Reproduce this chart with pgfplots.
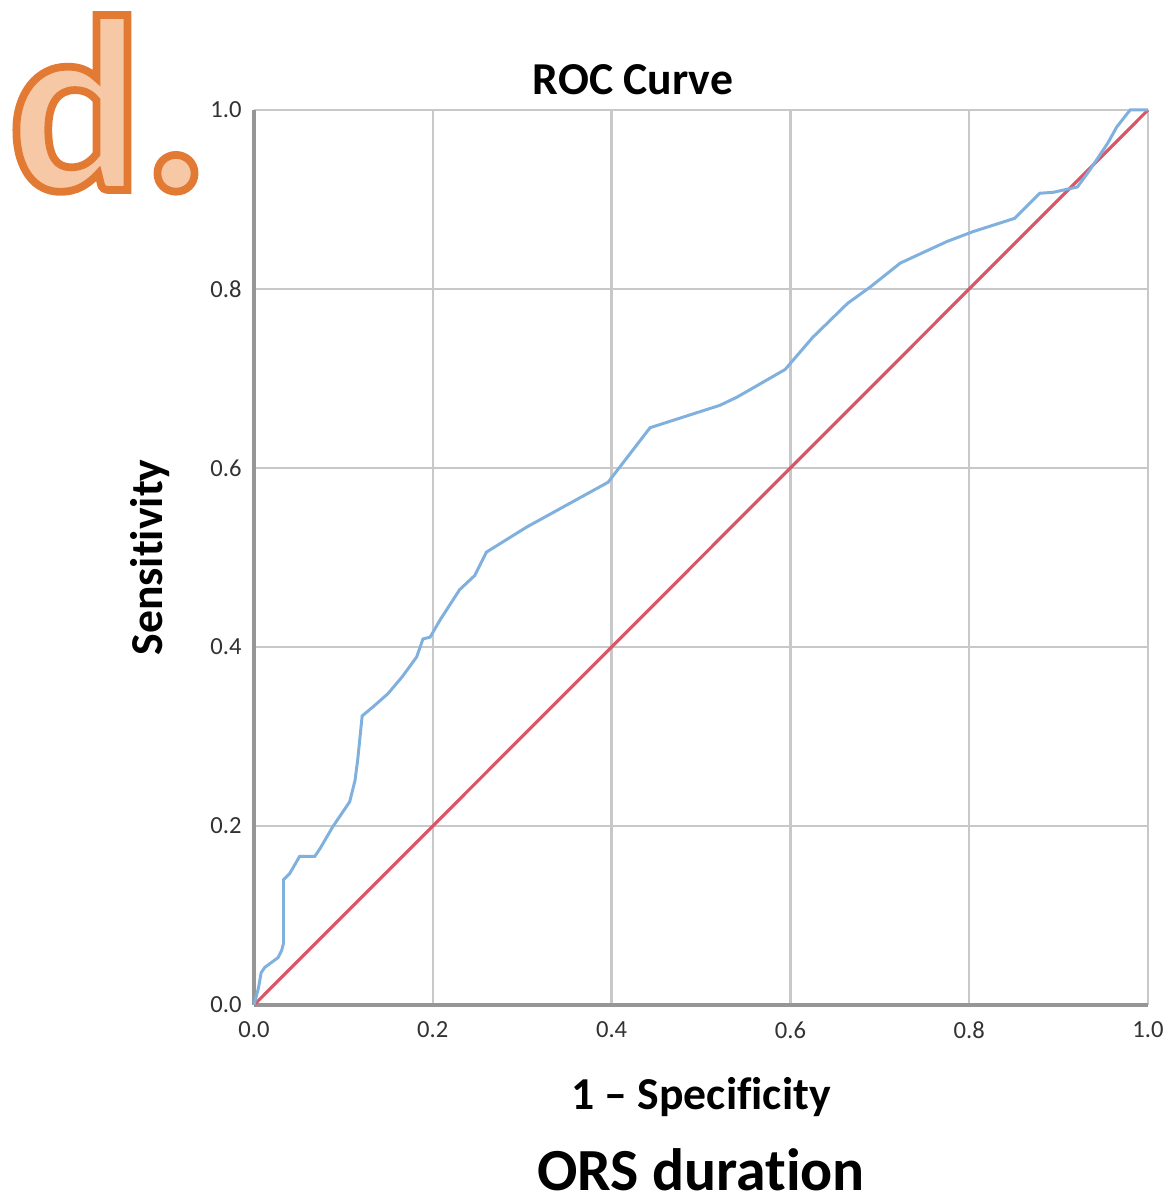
\documentclass[border=0pt]{standalone}
\usepackage{pgfplots}
\pgfplotsset{compat=1.18}
\usepackage{fontspec}
\setmainfont{Carlito}[Ligatures={NoCommon}]
\usetikzlibrary{calc}
\definecolor{rocblue}{RGB}{128,176,222}
\definecolor{refred}{RGB}{216,86,104}
\definecolor{gridg}{RGB}{200,200,200}
\definecolor{axg}{RGB}{150,150,150}
\definecolor{dfill}{RGB}{246,200,166}
\definecolor{tickg}{RGB}{50,50,50}

\begin{document}
\begin{tikzpicture}
\begin{axis}[
  scale only axis, width=89.4mm, height=89.5mm,
  xmin=0, xmax=1, ymin=0, ymax=1,
  xtick={0,0.2,0.4,0.6,0.8,1}, ytick={0,0.2,0.4,0.6,0.8,1},
  grid=major, major grid style={gridg, line width=0.7pt},
  axis x line*=bottom, axis y line*=left,
  axis line style={-, axg, line width=0.9pt},
  major tick length=0pt,
  /pgf/number format/assume math mode=true,
  /pgf/number format/.cd, fixed, fixed zerofill, precision=1, /pgfplots/.cd,
  tick label style={font=\fontsize{7}{8}\selectfont, text=tickg},
  xticklabel style={yshift=-0.4mm},
  clip=false,
]
% diagonal reference
\addplot[refred, line width=0.9pt] coordinates {(0,0) (1,1)};
% ROC curve
\addplot[rocblue, line width=0.85pt] coordinates {
(0,0) (0.005,0.019) (0.008,0.036) (0.012,0.042) (0.027,0.053) (0.031,0.061)
(0.033,0.069) (0.033,0.140) (0.040,0.147) (0.051,0.166) (0.068,0.166)
(0.074,0.175) (0.088,0.199) (0.107,0.227) (0.113,0.251) (0.116,0.274)
(0.121,0.323) (0.133,0.333) (0.150,0.348) (0.166,0.367) (0.182,0.389)
(0.189,0.409) (0.197,0.411) (0.208,0.430) (0.230,0.464) (0.247,0.480)
(0.260,0.506) (0.305,0.534) (0.396,0.584) (0.443,0.645) (0.521,0.670)
(0.540,0.679) (0.594,0.710) (0.625,0.746) (0.664,0.784) (0.689,0.802)
(0.723,0.829) (0.775,0.853) (0.804,0.864) (0.851,0.879) (0.879,0.907)
(0.894,0.908) (0.921,0.914) (0.935,0.933) (0.955,0.963) (0.965,0.981)
(0.980,1.000) (1,1)
};
\node[font=\bfseries\fontsize{13}{15}\selectfont, anchor=base]
  at ($(rel axis cs:0.5,1)+(-6.8mm,1.5mm)$) {ROC Curve};
\node[font=\bfseries\fontsize{13}{15}\selectfont, rotate=90, anchor=center]
  at ($(rel axis cs:0,0.5)+(-10.4mm,0)$) {Sensitivity};
\node[font=\bfseries\fontsize{13}{15}\selectfont, anchor=center]
  at ($(rel axis cs:0.5,0)+(0,-9.2mm)$) {1 – Specificity};
\node[font=\bfseries\fontsize{17}{20}\selectfont, anchor=center]
  at ($(rel axis cs:0.5,0)+(0,-16.5mm)$) {ORS duration};
\node[anchor=base west, inner sep=0pt]
  at ($(rel axis cs:0,1)+(-24.6mm,-8mm)$)
  {\fontsize{71}{71}\bfseries\selectfont\color{dfill}\special{pdf:code 2 Tr 2.2 w 0.886 0.478 0.204 RG}d.\special{pdf:code 0 Tr}};
\path ($(rel axis cs:0,0)+(-25.4mm,-19.9mm)$) rectangle ($(rel axis cs:1,1)+(2.8mm,11mm)$);
\end{axis}
\end{tikzpicture}
\end{document}
